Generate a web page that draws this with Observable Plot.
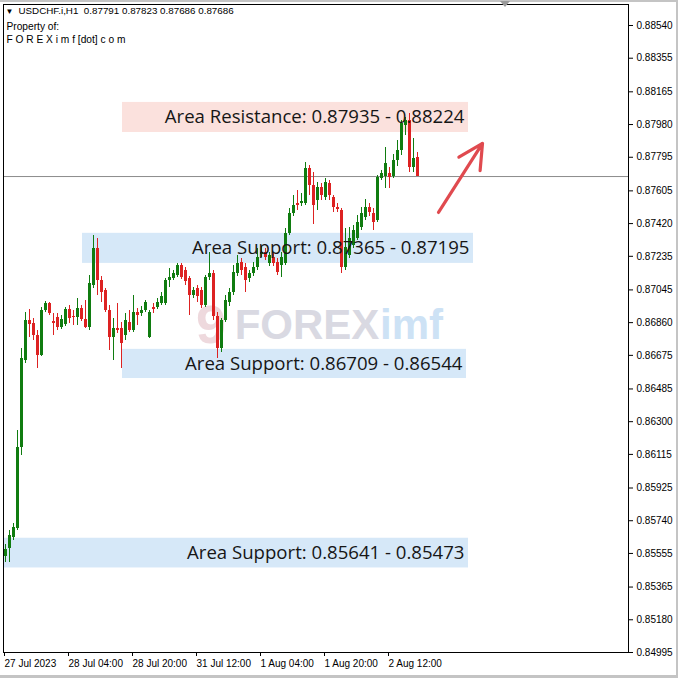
<!DOCTYPE html>
<html><head><meta charset="utf-8">
<script src="https://cdn.jsdelivr.net/npm/d3@7"></script>
<script src="https://cdn.jsdelivr.net/npm/@observablehq/plot@0.6"></script>
<style>
html,body{margin:0;padding:0;background:#fff;}
#chart{position:relative;width:678px;height:678px;overflow:hidden;}
#chart .edge{position:absolute;left:0;top:0;width:678px;height:678px;box-sizing:border-box;border-top:2px solid #c4c4c4;border-right:2px solid #c4c4c4;border-bottom:3px solid #c4c4c4;pointer-events:none;}
#chart .shift{position:absolute;left:500px;top:1px;width:0;height:0;border-left:5px solid transparent;border-right:5px solid transparent;border-top:6px solid #9a9a9a;pointer-events:none;}
</style></head><body><div id="chart"><div class="edge"></div><div class="shift"></div></div>
<script>
// ---------- data (hourly bars, index 0 = 27 Jul 2023 12:00) ----------
const symbol = "USDCHF.i,H1";
const open = [0.85538,0.85583,0.85645,0.85696,0.86154,0.86646,0.86872,0.86855,0.86787,0.86674,
0.86929,0.86968,0.86867,0.86889,0.86833,0.86849,0.86934,0.86895,0.86889,0.86940,
0.86878,0.86833,0.87070,0.87279,0.87098,0.87042,0.86929,0.86776,0.86827,0.86827,
0.86787,0.86861,0.86816,0.86917,0.86912,0.86929,0.86776,0.86946,0.86946,0.86968,
0.86968,0.87098,0.87110,0.87127,0.87183,0.87155,0.87110,0.87014,0.87053,0.87042,
0.86957,0.87115,0.87138,0.86895,0.86714,0.86872,0.86974,0.87030,0.87138,0.87200,
0.87172,0.87110,0.87138,0.87172,0.87245,0.87257,0.87194,0.87228,0.87200,0.87183,
0.87194,0.87364,0.87477,0.87534,0.87534,0.87534,0.87731,0.87635,0.87551,0.87624,
0.87568,0.87647,0.87568,0.87511,0.87494,0.87172,0.87240,0.87296,0.87336,0.87398,
0.87455,0.87511,0.87477,0.87438,0.87675,0.87686,0.87703,0.87686,0.87777,0.87833,
0.87975,0.88003,0.87737,0.87791];
const high = [0.85606,0.85685,0.85724,0.86250,0.86714,0.86917,0.86934,0.86883,0.86816,0.86946,
0.86980,0.86974,0.86912,0.86912,0.86900,0.86946,0.86957,0.86929,0.86997,0.86957,
0.86985,0.87127,0.87353,0.87336,0.87121,0.87053,0.86957,0.86883,0.86968,0.86861,
0.86912,0.86929,0.87014,0.86940,0.86951,0.86985,0.86929,0.86968,0.86997,0.87030,
0.87110,0.87166,0.87155,0.87194,0.87194,0.87172,0.87121,0.87059,0.87070,0.87059,
0.87127,0.87257,0.87155,0.86917,0.86883,0.87014,0.87053,0.87183,0.87240,0.87223,
0.87194,0.87155,0.87200,0.87279,0.87290,0.87279,0.87257,0.87251,0.87223,0.87257,
0.87392,0.87505,0.87579,0.87607,0.87590,0.87765,0.87748,0.87709,0.87652,0.87647,
0.87675,0.87664,0.87579,0.87534,0.87505,0.87392,0.87398,0.87409,0.87466,0.87511,
0.87556,0.87534,0.87505,0.87692,0.87720,0.87850,0.87737,0.87811,0.87890,0.88003,
0.88020,0.88042,0.87901,0.87823];
const low = [0.85504,0.85504,0.85628,0.85685,0.86109,0.86629,0.86776,0.86759,0.86601,0.86669,
0.86917,0.86900,0.86787,0.86816,0.86821,0.86838,0.86855,0.86844,0.86844,0.86867,
0.86827,0.86816,0.87053,0.87014,0.86974,0.86917,0.86702,0.86646,0.86799,0.86601,
0.86759,0.86804,0.86804,0.86844,0.86895,0.86917,0.86770,0.86912,0.86934,0.86957,
0.86957,0.87059,0.87098,0.87115,0.87104,0.87070,0.86900,0.86997,0.86974,0.86940,
0.86946,0.87098,0.86872,0.86657,0.86691,0.86861,0.86951,0.87014,0.87121,0.87127,
0.87030,0.87087,0.87121,0.87155,0.87228,0.87211,0.87177,0.87177,0.87127,0.87115,
0.87183,0.87353,0.87460,0.87494,0.87517,0.87522,0.87579,0.87415,0.87494,0.87551,
0.87551,0.87551,0.87483,0.87483,0.87138,0.87155,0.87223,0.87279,0.87324,0.87381,
0.87438,0.87460,0.87381,0.87426,0.87664,0.87618,0.87618,0.87675,0.87743,0.87805,
0.87918,0.87709,0.87709,0.87686];
const close = [0.85577,0.85656,0.85702,0.86154,0.86657,0.86872,0.86849,0.86787,0.86674,0.86929,
0.86968,0.86912,0.86855,0.86833,0.86878,0.86934,0.86883,0.86889,0.86940,0.86878,
0.86833,0.87081,0.87279,0.87098,0.87030,0.86929,0.86776,0.86827,0.86816,0.86742,
0.86872,0.86816,0.86917,0.86900,0.86929,0.86974,0.86917,0.86934,0.86974,0.87008,
0.87098,0.87115,0.87138,0.87183,0.87115,0.87093,0.87014,0.87042,0.87008,0.86957,
0.87115,0.87138,0.86895,0.86714,0.86872,0.86985,0.87030,0.87143,0.87194,0.87155,
0.87098,0.87138,0.87172,0.87228,0.87257,0.87228,0.87240,0.87194,0.87143,0.87228,
0.87364,0.87477,0.87522,0.87522,0.87545,0.87731,0.87635,0.87522,0.87624,0.87579,
0.87652,0.87579,0.87511,0.87500,0.87172,0.87285,0.87336,0.87381,0.87426,0.87477,
0.87511,0.87483,0.87426,0.87681,0.87703,0.87760,0.87681,0.87777,0.87833,0.87986,
0.88003,0.87737,0.87788,0.87686];

// time-axis labels (bar index -> label)
const xTickIdx = [0, 16, 32, 48, 64, 80, 96];
const xTickLabels = ["27 Jul 2023", "28 Jul 04:00", "28 Jul 20:00", "31 Jul 12:00", "1 Aug 04:00", "1 Aug 20:00", "2 Aug 12:00"];
// price-axis labels
const yTicks = [0.88540,0.88355,0.88165,0.87980,0.87795,0.87605,0.87420,0.87235,0.87045,0.86860,
0.86675,0.86485,0.86300,0.86115,0.85925,0.85740,0.85555,0.85365,0.85180,0.84995];

// zones (start/end in bar index, price bounds) and their captions
const zoneKind = ["resistance", "support", "support", "support"];
const zoneLabel = ["Area Resistance: 0.87935 - 0.88224", "Area Support: 0.87365 - 0.87195", "Area Support: 0.86709 - 0.86544", "Area Support: 0.85641 - 0.85473"];
const zoneStart = [29.25, 19.25, 29.25, -0.5];
const zoneEnd = [115.75, 117, 115.25, 115.75];
const zoneLow = [0.87935, 0.87195, 0.86544, 0.85473];
const zoneHigh = [0.88105, 0.87365, 0.86709, 0.85641];

// trend arrow (bar index, price)
const arrowFrom = [108.25, 0.87483];
const arrowTo = [119.25, 0.87873];

// header
const headerLine = "USDCHF.i,H1\u00a0\u00a00.87791 0.87823 0.87686 0.87686";
const ownerLines = "Property of:\nF O R E X i m f [dot] c o m";

// ---------- build ----------
const candles = open.map((o, i) => ({i, o, h: high[i], l: low[i], c: close[i]}));
const zones = zoneLabel.map((label, k) => ({label, kind: zoneKind[k], x1: zoneStart[k], x2: zoneEnd[k], lo: zoneLow[k], hi: zoneHigh[k]}));
const UP = "#107c10", DOWN = "#dd2222";
const col = d => d.c >= d.o ? UP : DOWN;
const last = close[close.length - 1];
const fmt = d3.format(".5f");

const plot = Plot.plot({
  width: 678, height: 678,
  marginLeft: 3, marginRight: 50, marginTop: 4, marginBottom: 26,
  style: {fontFamily: "'Liberation Sans', Arial, sans-serif", fontSize: "10px", background: "transparent", color: "#000", overflow: "visible"},
  x: {domain: [-0.5, 155.75], axis: null, label: null},
  y: {domain: [0.84995, 0.886587], axis: null, label: null},
  color: {type: "identity"},
  marks: [
    // watermark
    Plot.text(["9"], {frameAnchor: "middle", dx: -105, dy: -3, fontSize: 54, fontWeight: "bold", fill: "#eed9dd", fontFamily: "'Liberation Sans', Arial, sans-serif"}),
    Plot.text(["FOREX"], {frameAnchor: "middle", dx: -9, dy: -3, fontSize: 42, fontWeight: "bold", fill: "#d9d9e2", fontFamily: "'Liberation Sans', Arial, sans-serif"}),
    Plot.text(["imf"], {frameAnchor: "middle", dx: 64, dy: -3, textAnchor: "start", fontSize: 42, fontWeight: "bold", fill: "#cde2f5", fontFamily: "'Liberation Sans', Arial, sans-serif"}),
    // zones
    Plot.rect(zones, {x1: "x1", x2: "x2", y1: "lo", y2: "hi", fill: d => d.kind === "resistance" ? "#fbe1dd" : "#d6e8f8"}),
    // current price line
    Plot.ruleY([last], {stroke: "#8c8c8c", strokeWidth: 1}),
    // candles
    Plot.ruleX(candles, {x: "i", y1: "l", y2: "h", stroke: col, shapeRendering: "crispEdges"}),
    Plot.rect(candles, {x1: d => d.i - 0.375, x2: d => d.i + 0.375, y1: "o", y2: "c", fill: col, shapeRendering: "crispEdges"}),
    // zone captions
    Plot.text(zones, {x: "x2", y: d => (d.lo + d.hi) / 2, text: "label", textAnchor: "end", dx: -4, fontSize: 18.6, fontFamily: "'Open Sans', sans-serif", fill: "#161616"}),
    // arrow
    Plot.arrow([{x1: arrowFrom[0], y1: arrowFrom[1], x2: arrowTo[0], y2: arrowTo[1]}], {x1: "x1", y1: "y1", x2: "x2", y2: "y2", stroke: "#e04a4f", strokeWidth: 3.2, headLength: 13, headAngle: 55}),
    // axes
    Plot.axisY(yTicks, {anchor: "right", tickSize: 4, tickPadding: 4, tickFormat: fmt, fontSize: 10, label: null}),
    Plot.axisX(xTickIdx, {anchor: "bottom", tickSize: 4, tickPadding: 3, tickFormat: d => xTickLabels[xTickIdx.indexOf(d)], textAnchor: "start", dx: -1, fontSize: 10, label: null}),
    Plot.frame({stroke: "#000"}),
    // header
    Plot.text(["\u25BC"], {frameAnchor: "top-left", dx: 2, dy: 4, lineAnchor: "top", fontSize: 8, fill: "#000"}),
    Plot.text([headerLine], {frameAnchor: "top-left", dx: 15, dy: 3, lineAnchor: "top", fontSize: 9.8, fill: "#000"}),
    Plot.text([ownerLines], {frameAnchor: "top-left", dx: 3, dy: 16, lineAnchor: "top", lineHeight: 1.3, fontSize: 10.2, fill: "#000"}),
    // current price tag
    Plot.text([last], {y: d => d, frameAnchor: "right", dx: 8, textAnchor: "start", text: d => fmt(d), fill: "#fff", fontSize: 10, ariaLabel: "price-tag"})
  ]
});

const host = document.getElementById("chart");
host.insertBefore(plot, host.firstChild);
plot.style.position = "absolute"; plot.style.left = "0"; plot.style.top = "0";

// dark background behind the current-price tag
const tag = plot.querySelector('g[aria-label="price-tag"] text');
if (tag) {
  const bb = tag.getBBox();
  const r = document.createElementNS("http://www.w3.org/2000/svg", "rect");
  r.setAttribute("x", bb.x - 6);
  r.setAttribute("y", bb.y - 0.5);
  r.setAttribute("width", bb.width + 10);
  r.setAttribute("height", bb.height + 1);
  r.setAttribute("fill", "#000");
  const tr = tag.getAttribute("transform");
  if (tr) r.setAttribute("transform", tr);
  tag.parentNode.insertBefore(r, tag);
}
</script></body></html>
